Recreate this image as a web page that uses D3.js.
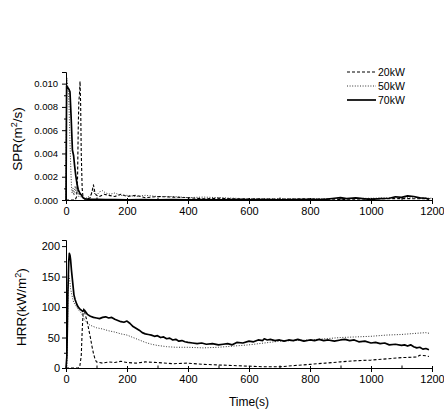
<!DOCTYPE html>
<html>
<head>
<meta charset="utf-8">
<script src="https://cdn.jsdelivr.net/npm/d3@7"></script>
<style>
  body { margin: 0; background: #fff; }
  text { font-family: "Liberation Sans", Arial, sans-serif; fill: #000; }
</style>
</head>
<body>
<script>
// series names
var seriesNames = ["20kW", "50kW", "70kW"];

// tick labels
var xTicks = [0, 200, 400, 600, 800, 1000, 1200];
var sprTicks = [0, 0.002, 0.004, 0.006, 0.008, 0.010];
var hrrTicks = [0, 50, 100, 150, 200];

// SPR (m2/s) - 20kW
var spr20T = [0, 30, 35, 38, 40, 42, 44, 46, 48, 50, 53, 56, 60, 70, 80, 86, 90, 95, 100, 110, 125, 140, 160, 180, 200, 230, 260, 300, 350, 400, 450, 500, 550, 600, 700, 800, 900, 1000, 1100, 1200];
var spr20V = [0, 0, 0.0003, 0.002, 0.006, 0.0085, 0.009, 0.0102, 0.0082, 0.004, 0.001, 0.0002, 0.0001, 0.0001, 0.0002, 0.0008, 0.0013, 0.0006, 0.0004, 0.0003, 0.0005, 0.0004, 0.0003, 0.0005, 0.0003, 0.0004, 0.0002, 0.0003, 0.00025, 0.0002, 0.0001, 0.00015, 0.0001, 0.0001, 0.00008, 0.0001, 0.00005, 0.0001, 0.00012, 0.0001];

// SPR - 50kW
var spr50T = [0, 1, 3, 5, 8, 10, 13, 16, 18, 20, 23, 26, 30, 34, 38, 42, 46, 50, 55, 60, 70, 80, 88, 95, 100, 110, 120, 130, 145, 160, 180, 200, 230, 260, 300, 350, 400, 450, 500, 550, 600, 650, 700, 800, 900, 1000, 1100, 1200];
var spr50V = [0, 0.006, 0.0105, 0.0099, 0.0092, 0.0080, 0.0050, 0.0025, 0.0012, 0.0006, 0.0010, 0.0004, 0.0012, 0.0005, 0.0009, 0.0003, 0.0006, 0.0002, 0.0003, 0.0001, 0.0002, 0.0004, 0.0009, 0.0005, 0.0004, 0.0007, 0.0008, 0.0006, 0.0005, 0.0006, 0.0004, 0.0004, 0.0003, 0.0004, 0.0003, 0.0003, 0.0002, 0.00025, 0.0002, 0.00015, 0.0001, 0.00012, 0.0001, 0.0001, 0.00012, 0.00015, 0.0002, 0.00015];

// SPR - 70kW
var spr70T = [0, 2, 5, 10, 13, 17, 21, 25, 28, 32, 36, 40, 45, 51, 56, 62, 70, 80, 100, 130, 160, 200, 250, 300, 350, 400, 450, 500, 550, 600, 650, 700, 750, 800, 850, 880, 900, 920, 950, 980, 1000, 1030, 1060, 1080, 1100, 1120, 1140, 1160, 1180, 1190];
var spr70V = [0, 0.0098, 0.0097, 0.0095, 0.0093, 0.0070, 0.0043, 0.0038, 0.0030, 0.0021, 0.0014, 0.0009, 0.0006, 0.0004, 0.0002, 0.0001, 0.00008, 0.00005, 0.00005, 0.00003, 0.00004, 0.00002, 0.00003, 0.00002, 0.00003, 0.00002, 0.00003, 0.00002, 0.00004, 0.00002, 0.00003, 0.00002, 0.00003, 0.00004, 0.00006, 0.00015, 0.0002, 0.00012, 0.00018, 0.0001, 0.00005, 0.00012, 0.00015, 0.00028, 0.00022, 0.00035, 0.0003, 0.00018, 0.00015, 0.00005];

// HRR (kW/m2) - 20kW
var hrr20T = [0, 40, 45, 50, 53, 56, 58, 60, 62, 65, 70, 75, 80, 85, 90, 95, 100, 110, 120, 140, 160, 180, 200, 230, 260, 300, 350, 400, 450, 500, 550, 600, 650, 700, 750, 800, 850, 900, 950, 1000, 1050, 1100, 1150, 1160, 1180, 1190];
var hrr20V = [0, 0, 2, 20, 60, 90, 97, 95, 90, 84, 75, 62, 50, 36, 24, 15, 10, 9, 8, 10, 9, 11, 9, 8, 10, 9, 7, 8, 6, 5, 4, 3, 2, 2, 4, 6, 8, 10, 12, 13, 15, 17, 18, 21, 20, 19];

// HRR - 50kW
var hrr50T = [0, 3, 5, 7, 9, 12, 15, 20, 25, 30, 35, 40, 45, 50, 55, 60, 70, 80, 90, 100, 120, 140, 160, 180, 200, 220, 240, 260, 280, 300, 330, 360, 400, 450, 500, 550, 600, 650, 700, 750, 800, 850, 900, 950, 1000, 1050, 1100, 1150, 1180, 1190];
var hrr50V = [0, 0, 60, 140, 152, 145, 130, 118, 108, 104, 100, 96, 93, 90, 86, 80, 73, 70, 68, 66, 64, 61, 59, 56, 54, 50, 46, 42, 39, 37, 35, 34, 34, 33, 34, 36, 38, 41, 44, 45, 46, 48, 50, 51, 52, 54, 55, 57, 58, 57];

// HRR - 70kW
var hrr70T = [0, 3, 6, 9, 11, 13, 15, 18, 22, 26, 30, 35, 40, 45, 50, 55, 60, 70, 80, 90, 100, 110, 120, 130, 140, 150, 160, 170, 180, 190, 200, 210, 220, 240, 250, 260, 270, 280, 290, 300, 310, 320, 330, 340, 350, 360, 370, 380, 390, 400, 415, 430, 445, 460, 480, 500, 515, 530, 545, 560, 580, 600, 615, 630, 645, 650, 660, 670, 685, 700, 715, 730, 745, 760, 780, 800, 815, 830, 845, 860, 880, 900, 915, 930, 945, 960, 980, 1000, 1015, 1030, 1045, 1060, 1080, 1100, 1110, 1120, 1130, 1140, 1150, 1160, 1170, 1180, 1190];
var hrr70V = [0, 20, 120, 175, 188, 185, 178, 160, 140, 120, 112, 105, 100, 97, 95, 93, 95, 88, 85, 83, 82, 81, 83, 84, 82, 83, 80, 78, 76, 75, 77, 73, 68, 62, 58, 56, 55, 54, 52, 53, 50, 51, 48, 49, 46, 47, 44, 45, 43, 42, 41, 40, 41, 39, 40, 38, 39, 40, 38, 42, 41, 44, 43, 46, 45, 48, 46, 47, 45, 46, 44, 46, 45, 47, 44, 46, 45, 47, 45, 46, 44, 46, 47, 45, 46, 43, 44, 41, 42, 40, 41, 38, 39, 37, 38, 36, 38, 35, 33, 34, 31, 32, 30];

var w = 444;
var h = 412;
var x0 = 66, x1 = 432;

var styles = {
  "20kW": { width: 1.1, dash: "3,2", color: "#000" },
  "50kW": { width: 1, dash: "1,1.6", color: "#333" },
  "70kW": { width: 1.7, dash: null, color: "#000" }
};

function zip(t, v) {
  return t.map(function(d, i) { return { t: d, v: v[i] }; });
}

var svg = d3.select("body")
  .append("svg")
  .attr("width", w)
  .attr("height", h);

svg.append("rect").attr("width", w).attr("height", h).attr("fill", "#fff");

var x = d3.scaleLinear().domain([0, 1200]).range([x0, x1]);

function panel(yTop, yBot, yMax, yTicks, yFmt, yMinor, yFont, label, labelX, series) {
  var y = d3.scaleLinear().domain([0, yMax]).range([yBot, yTop]);
  var g = svg.append("g");

  var line = d3.line()
    .x(function(d) { return x(d.t); })
    .y(function(d) { return y(d.v); });

  series.forEach(function(s) {
    var st = styles[s.name];
    g.append("path")
      .datum(s.data)
      .attr("d", line)
      .attr("fill", "none")
      .attr("stroke", st.color)
      .attr("stroke-width", st.width)
      .attr("stroke-dasharray", st.dash)
      .attr("stroke-linejoin", "round");
  });

  // x axis: outward major ticks
  var xa = g.append("g")
    .attr("transform", "translate(0," + yBot + ")")
    .call(d3.axisBottom(x).tickValues(xTicks).tickSize(4).tickPadding(3).tickFormat(d3.format("d")));
  xa.selectAll("text").attr("font-size", "11px").attr("font-family", "Liberation Sans, Arial, sans-serif");
  // short inward part of major ticks + minor ticks
  g.append("g")
    .attr("transform", "translate(0," + yBot + ")")
    .call(d3.axisBottom(x).tickValues(xTicks).tickSize(-2).tickFormat(""))
    .select(".domain").remove();
  g.append("g")
    .attr("transform", "translate(0," + yBot + ")")
    .call(d3.axisBottom(x).tickValues([100, 300, 500, 700, 900, 1100]).tickSize(-2.5).tickFormat(""))
    .select(".domain").remove();

  var ya = g.append("g")
    .attr("transform", "translate(" + x0 + ",0)")
    .call(d3.axisLeft(y).tickValues(yTicks).tickSize(4).tickPadding(yFont > 10 ? 2 : 4).tickFormat(yFmt));
  ya.selectAll("text").attr("font-size", yFont + "px").attr("font-family", "Liberation Sans, Arial, sans-serif");
  g.append("g")
    .attr("transform", "translate(" + x0 + ",0)")
    .call(d3.axisLeft(y).tickValues(yMinor).tickSize(2).tickFormat(""))
    .select(".domain").remove();

  svg.selectAll(".domain, .tick line").attr("stroke", "#000").attr("stroke-width", 1);

  var lt = svg.append("text")
    .attr("transform", "translate(" + labelX + "," + ((yTop + yBot) / 2 + 3) + ") rotate(-90)")
    .attr("text-anchor", "middle")
    .attr("font-size", "13.5px");
  lt.append("tspan").text(label[0]);
  lt.append("tspan").attr("font-size", "9px").attr("dy", -5).text("2");
  lt.append("tspan").attr("dy", 5).text(label[1]);
}

panel(72, 200, 0.011, sprTicks, d3.format(".3f"),
  [0.001, 0.003, 0.005, 0.007, 0.009], 9.5,
  ["SPR(m", "/s)"], 22,
  [
    { name: "20kW", data: zip(spr20T, spr20V) },
    { name: "50kW", data: zip(spr50T, spr50V) },
    { name: "70kW", data: zip(spr70T, spr70V) }
  ]);

panel(240, 368, 210, hrrTicks, d3.format("d"),
  [25, 75, 125, 175], 11,
  ["HRR(kW/m", ")"], 26,
  [
    { name: "20kW", data: zip(hrr20T, hrr20V) },
    { name: "50kW", data: zip(hrr50T, hrr50V) },
    { name: "70kW", data: zip(hrr70T, hrr70V) }
  ]);

svg.append("text")
  .attr("x", 249)
  .attr("y", 406)
  .attr("text-anchor", "middle")
  .attr("font-size", "12px")
  .text("Time(s)");

// legend
var leg = svg.append("g").attr("transform", "translate(347,72)");
seriesNames.forEach(function(n, i) {
  var st = styles[n];
  leg.append("line")
    .attr("x1", 0).attr("x2", 29)
    .attr("y1", i * 14).attr("y2", i * 14)
    .attr("stroke", st.color)
    .attr("stroke-width", st.width)
    .attr("stroke-dasharray", st.dash);
  leg.append("text")
    .attr("x", 31)
    .attr("y", i * 14 + 4)
    .attr("font-size", "10.5px")
    .text(n);
});
</script>
</body>
</html>
